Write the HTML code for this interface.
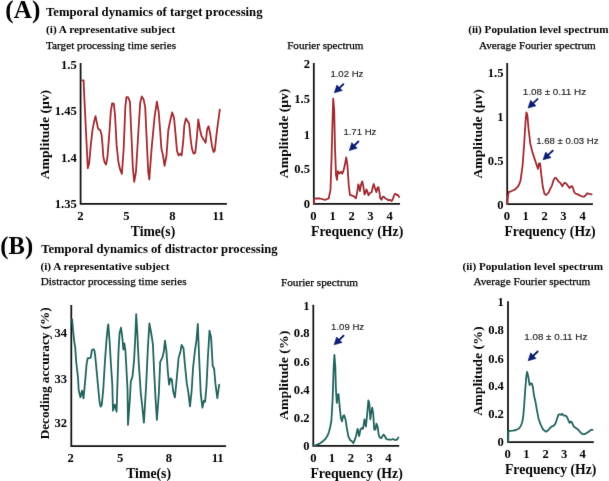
<!DOCTYPE html>
<html><head><meta charset="utf-8"><title>Temporal dynamics</title>
<style>
html,body{margin:0;padding:0;background:#fff;}
body{width:609px;height:481px;overflow:hidden;font-family:"Liberation Serif",serif;}
svg{display:block;}
</style></head>
<body>
<svg width="609" height="481" viewBox="0 0 609 481">
<defs><filter id="bl" x="0" y="0" width="609" height="481" filterUnits="userSpaceOnUse" color-interpolation-filters="sRGB"><feConvolveMatrix order="3" kernelMatrix="0.0052 0.0619 0.0052 0.0619 0.7314 0.0619 0.0052 0.0619 0.0052" edgeMode="duplicate"/></filter></defs>
<g filter="url(#bl)">
<rect width="609" height="481" fill="#fff"/>
<text x="5.3" y="17.5" font-family="Liberation Serif" font-size="25" font-weight="bold" textLength="35.0" lengthAdjust="spacingAndGlyphs" fill="#000">(A)</text>
<text x="46.0" y="15.7" font-family="Liberation Serif" font-size="12.0" font-weight="bold" textLength="216.5" lengthAdjust="spacingAndGlyphs" fill="#000">Temporal dynamics of target processing</text>
<text x="46.0" y="33.3" font-family="Liberation Serif" font-size="11" font-weight="bold" textLength="129.2" lengthAdjust="spacingAndGlyphs" fill="#000">(i) A representative subject</text>
<text x="46.0" y="48.7" font-family="Liberation Serif" font-size="11" textLength="130.0" lengthAdjust="spacingAndGlyphs" fill="#000" stroke="#000" stroke-width="0.25">Target processing time series</text>
<text x="287.2" y="49.3" font-family="Liberation Serif" font-size="11" textLength="76.2" lengthAdjust="spacingAndGlyphs" fill="#000" stroke="#000" stroke-width="0.25">Fourier spectrum</text>
<text x="468.2" y="33.3" font-family="Liberation Serif" font-size="11" font-weight="bold" textLength="140.3" lengthAdjust="spacingAndGlyphs" fill="#000">(ii) Population level spectrum</text>
<text x="479.0" y="48.6" font-family="Liberation Serif" font-size="11" textLength="116.8" lengthAdjust="spacingAndGlyphs" fill="#000" stroke="#000" stroke-width="0.25">Average Fourier spectrum</text>
<text x="0.3" y="253.9" font-family="Liberation Serif" font-size="25" font-weight="bold" textLength="32.8" lengthAdjust="spacingAndGlyphs" fill="#000">(B)</text>
<text x="41.2" y="252.7" font-family="Liberation Serif" font-size="12.0" font-weight="bold" textLength="236.4" lengthAdjust="spacingAndGlyphs" fill="#000">Temporal dynamics of distractor processing</text>
<text x="40.4" y="270.3" font-family="Liberation Serif" font-size="11" font-weight="bold" textLength="129.2" lengthAdjust="spacingAndGlyphs" fill="#000">(i) A representative subject</text>
<text x="40.7" y="285.1" font-family="Liberation Serif" font-size="11" textLength="145.8" lengthAdjust="spacingAndGlyphs" fill="#000" stroke="#000" stroke-width="0.25">Distractor processing time series</text>
<text x="281.0" y="286.1" font-family="Liberation Serif" font-size="11" textLength="77.0" lengthAdjust="spacingAndGlyphs" fill="#000" stroke="#000" stroke-width="0.25">Fourier spectrum</text>
<text x="462.5" y="270.3" font-family="Liberation Serif" font-size="11" font-weight="bold" textLength="140.6" lengthAdjust="spacingAndGlyphs" fill="#000">(ii) Population level spectrum</text>
<text x="473.5" y="284.6" font-family="Liberation Serif" font-size="11" textLength="116.8" lengthAdjust="spacingAndGlyphs" fill="#000" stroke="#000" stroke-width="0.25">Average Fourier spectrum</text>
<path d="M80.6,63.0 L80.6,203.8 L226.9,203.8" fill="none" stroke="#111" stroke-width="1.75" stroke-linejoin="miter" stroke-linecap="butt"/>
<text x="76.8" y="68.6" font-family="Liberation Serif" font-size="12.6" font-weight="bold" text-anchor="end" fill="#000">1.5</text>
<text x="76.8" y="114.9" font-family="Liberation Serif" font-size="12.6" font-weight="bold" text-anchor="end" fill="#000">1.45</text>
<text x="76.8" y="161.6" font-family="Liberation Serif" font-size="12.6" font-weight="bold" text-anchor="end" fill="#000">1.4</text>
<text x="76.8" y="208.3" font-family="Liberation Serif" font-size="12.6" font-weight="bold" text-anchor="end" fill="#000">1.35</text>
<text x="80.5" y="219.6" font-family="Liberation Serif" font-size="12.6" font-weight="bold" text-anchor="middle" fill="#000">2</text>
<text x="126.3" y="219.6" font-family="Liberation Serif" font-size="12.6" font-weight="bold" text-anchor="middle" fill="#000">5</text>
<text x="172.5" y="219.6" font-family="Liberation Serif" font-size="12.6" font-weight="bold" text-anchor="middle" fill="#000">8</text>
<text x="218.4" y="219.6" font-family="Liberation Serif" font-size="12.6" font-weight="bold" text-anchor="middle" fill="#000">11</text>
<text x="130.8" y="235.6" font-family="Liberation Serif" font-size="13.7" font-weight="bold" textLength="44.4" lengthAdjust="spacingAndGlyphs" fill="#000">Time(s)</text>
<text transform="translate(48.55,134.6) rotate(-90)" font-family="Liberation Serif" font-size="12.8" font-weight="bold" text-anchor="middle" textLength="89.3" lengthAdjust="spacingAndGlyphs" fill="#000">Amplitude (μv)</text>
<path d="M82.3,80.3 L83.6,80.3 L84.2,95.0 L87.8,168.2 L89.2,163.2 L90.8,144.9 L92.5,129.9 L94.1,121.6 L95.5,116.1 L96.6,121.6 L98.0,128.3 L99.1,129.6 L100.3,130.3 L101.6,134.9 L102.5,144.9 L103.3,156.6 L104.6,162.4 L106.1,164.5 L107.5,156.6 L109.1,136.6 L110.8,111.6 L112.1,103.3 L113.8,103.7 L115.0,115.0 L116.6,144.9 L118.4,162.0 L120.0,169.2 L121.9,173.8 L123.7,148.6 L125.3,107.4 L126.4,97.2 L128.0,97.2 L129.9,101.7 L131.0,125.7 L132.8,166.9 L134.2,181.8 L136.0,171.5 L137.9,139.5 L140.2,102.9 L141.8,96.5 L143.6,99.4 L145.2,107.4 L146.6,137.2 L148.2,171.5 L149.3,179.5 L151.6,148.6 L154.6,116.6 L156.9,101.7 L158.7,112.0 L160.3,132.6 L161.4,148.6 L163.0,155.5 L164.6,165.8 L166.5,155.5 L168.3,130.3 L169.9,122.3 L172.2,112.5 L174.0,117.7 L175.6,134.9 L177.0,150.9 L178.6,155.5 L180.4,153.6 L181.6,155.5 L183.2,141.7 L184.3,125.7 L185.9,118.4 L187.7,121.2 L189.1,123.4 L190.7,139.5 L191.9,148.6 L193.5,153.6 L195.3,152.7 L196.9,137.2 L198.3,119.3 L199.9,129.2 L201.5,136.0 L203.3,139.0 L205.6,142.9 L207.2,129.2 L208.6,126.2 L210.2,133.7 L212.0,146.3 L213.6,152.0 L214.7,150.9 L217.0,130.3 L219.8,109.7" fill="none" stroke="#a02a2f" stroke-width="1.8" stroke-linejoin="round" stroke-linecap="round"/>
<path d="M313.8,63.1 L313.8,203.9 L400.0,203.9" fill="none" stroke="#111" stroke-width="1.75" stroke-linejoin="miter" stroke-linecap="butt"/>
<text x="310.0" y="68.3" font-family="Liberation Serif" font-size="12.6" font-weight="bold" text-anchor="end" fill="#000">2</text>
<text x="310.0" y="103.4" font-family="Liberation Serif" font-size="12.6" font-weight="bold" text-anchor="end" fill="#000">1.5</text>
<text x="310.0" y="138.6" font-family="Liberation Serif" font-size="12.6" font-weight="bold" text-anchor="end" fill="#000">1</text>
<text x="310.0" y="173.1" font-family="Liberation Serif" font-size="12.6" font-weight="bold" text-anchor="end" fill="#000">0.5</text>
<text x="310.0" y="208.4" font-family="Liberation Serif" font-size="12.6" font-weight="bold" text-anchor="end" fill="#000">0</text>
<text x="313.4" y="219.6" font-family="Liberation Serif" font-size="12.6" font-weight="bold" text-anchor="middle" fill="#000">0</text>
<text x="332.7" y="219.6" font-family="Liberation Serif" font-size="12.6" font-weight="bold" text-anchor="middle" fill="#000">1</text>
<text x="351.6" y="219.6" font-family="Liberation Serif" font-size="12.6" font-weight="bold" text-anchor="middle" fill="#000">2</text>
<text x="370.5" y="219.6" font-family="Liberation Serif" font-size="12.6" font-weight="bold" text-anchor="middle" fill="#000">3</text>
<text x="389.7" y="219.6" font-family="Liberation Serif" font-size="12.6" font-weight="bold" text-anchor="middle" fill="#000">4</text>
<text x="311.0" y="235.9" font-family="Liberation Serif" font-size="13.7" font-weight="bold" textLength="92.3" lengthAdjust="spacingAndGlyphs" fill="#000">Frequency (Hz)</text>
<text transform="translate(288.25,133.4) rotate(-90)" font-family="Liberation Serif" font-size="12.8" font-weight="bold" text-anchor="middle" textLength="89.5" lengthAdjust="spacingAndGlyphs" fill="#000">Amplitude (μv)</text>
<path d="M314.0,203.9 L314.2,198.8 L316.0,198.3 L320.0,198.5 L325.0,199.8 L328.7,198.5 L330.5,189.8 L331.5,159.9 L332.5,122.4 L333.2,98.7 L334.2,110.0 L335.0,147.4 L336.0,174.8 L337.0,179.8 L337.9,171.1 L339.4,173.6 L340.9,171.8 L342.4,173.6 L343.7,169.8 L344.9,164.8 L346.2,157.4 L347.4,164.8 L348.7,184.8 L349.9,194.8 L351.4,195.3 L353.6,196.2 L355.9,198.4 L357.2,192.1 L358.3,184.4 L359.0,185.8 L359.9,191.2 L361.0,184.9 L362.2,181.3 L363.1,184.9 L364.5,194.4 L365.4,193.0 L366.4,189.4 L367.3,191.2 L368.5,195.3 L369.9,193.0 L371.7,192.1 L372.8,186.7 L373.7,184.0 L374.8,187.6 L376.4,192.1 L377.6,187.6 L378.5,187.1 L379.4,192.1 L380.3,198.4 L381.4,199.8 L382.5,197.1 L383.6,196.6 L385.2,198.2 L387.0,199.3 L388.4,200.4 L389.7,199.8 L391.7,201.1 L392.9,198.9 L394.3,194.8 L395.2,193.7 L396.5,194.8 L397.9,195.0 L399.2,197.1" fill="none" stroke="#a02a2f" stroke-width="1.8" stroke-linejoin="round" stroke-linecap="round"/>
<text x="330.4" y="77.2" font-family="Liberation Sans" font-size="9.2" textLength="33.0" lengthAdjust="spacingAndGlyphs" fill="#1e1e1e" stroke="#1e1e1e" stroke-width="0.15">1.02 Hz</text>
<line x1="343.3" y1="84.2" x2="339.22" y2="88.10" stroke="#0b1f72" stroke-width="1.9" stroke-linecap="round"/>
<polygon points="334.3,92.8 336.88,84.94 342.27,90.58" fill="#0b1f72" stroke="#0b1f72" stroke-width="0.6" stroke-linejoin="round"/>
<text x="343.4" y="135.3" font-family="Liberation Sans" font-size="9.2" textLength="33.0" lengthAdjust="spacingAndGlyphs" fill="#1e1e1e" stroke="#1e1e1e" stroke-width="0.15">1.71 Hz</text>
<line x1="358.4" y1="141.5" x2="354.13" y2="145.72" stroke="#0b1f72" stroke-width="1.9" stroke-linecap="round"/>
<polygon points="349.3,150.5 351.75,142.59 357.23,148.14" fill="#0b1f72" stroke="#0b1f72" stroke-width="0.6" stroke-linejoin="round"/>
<path d="M507.2,63.1 L507.2,204.2 L592.9,204.2" fill="none" stroke="#111" stroke-width="1.75" stroke-linejoin="miter" stroke-linecap="butt"/>
<text x="503.5" y="77.2" font-family="Liberation Serif" font-size="12.6" font-weight="bold" text-anchor="end" fill="#000">1.5</text>
<text x="503.5" y="120.6" font-family="Liberation Serif" font-size="12.6" font-weight="bold" text-anchor="end" fill="#000">1</text>
<text x="503.5" y="165.0" font-family="Liberation Serif" font-size="12.6" font-weight="bold" text-anchor="end" fill="#000">0.5</text>
<text x="503.5" y="208.8" font-family="Liberation Serif" font-size="12.6" font-weight="bold" text-anchor="end" fill="#000">0</text>
<text x="507.0" y="219.6" font-family="Liberation Serif" font-size="12.6" font-weight="bold" text-anchor="middle" fill="#000">0</text>
<text x="525.7" y="219.6" font-family="Liberation Serif" font-size="12.6" font-weight="bold" text-anchor="middle" fill="#000">1</text>
<text x="544.7" y="219.6" font-family="Liberation Serif" font-size="12.6" font-weight="bold" text-anchor="middle" fill="#000">2</text>
<text x="563.4" y="219.6" font-family="Liberation Serif" font-size="12.6" font-weight="bold" text-anchor="middle" fill="#000">3</text>
<text x="582.6" y="219.6" font-family="Liberation Serif" font-size="12.6" font-weight="bold" text-anchor="middle" fill="#000">4</text>
<text x="504.5" y="235.7" font-family="Liberation Serif" font-size="13.7" font-weight="bold" textLength="91.1" lengthAdjust="spacingAndGlyphs" fill="#000">Frequency (Hz)</text>
<text transform="translate(481.55,133.9) rotate(-90)" font-family="Liberation Serif" font-size="12.8" font-weight="bold" text-anchor="middle" textLength="89.3" lengthAdjust="spacingAndGlyphs" fill="#000">Amplitude (μv)</text>
<path d="M507.3,204.2 L508.0,196.0 L508.8,191.8 L511.2,191.3 L515.0,189.5 L518.3,186.2 L520.5,180.8 L522.6,165.5 L524.2,143.7 L525.5,121.8 L526.4,112.4 L527.4,115.3 L528.5,128.4 L530.3,143.7 L532.5,152.4 L534.6,158.9 L536.8,165.5 L537.9,168.8 L539.0,163.3 L540.1,163.3 L541.2,174.2 L542.9,187.3 L544.5,193.9 L546.2,195.0 L548.7,192.3 L550.6,188.1 L552.0,185.3 L553.4,180.6 L554.8,177.8 L556.2,178.2 L557.6,180.1 L559.0,182.0 L560.4,182.9 L562.3,186.2 L563.7,183.9 L564.8,182.6 L566.5,183.9 L567.9,185.7 L569.5,188.1 L570.7,186.7 L572.1,186.2 L573.1,188.5 L574.0,191.8 L575.4,193.5 L577.3,194.1 L579.1,195.1 L581.0,196.0 L582.9,196.7 L584.3,196.5 L585.7,195.1 L587.6,193.2 L589.0,193.9 L590.4,194.1 L591.6,194.4" fill="none" stroke="#a02a2f" stroke-width="1.8" stroke-linejoin="round" stroke-linecap="round"/>
<text x="522.7" y="94.8" font-family="Liberation Sans" font-size="9.2" textLength="63.4" lengthAdjust="spacingAndGlyphs" fill="#1e1e1e" stroke="#1e1e1e" stroke-width="0.15">1.08 ± 0.11 Hz</text>
<line x1="537.5" y1="99.1" x2="532.96" y2="103.35" stroke="#0b1f72" stroke-width="1.9" stroke-linecap="round"/>
<polygon points="528.0,108.0 530.66,100.16 535.99,105.86" fill="#0b1f72" stroke="#0b1f72" stroke-width="0.6" stroke-linejoin="round"/>
<text x="536.2" y="144.0" font-family="Liberation Sans" font-size="9.2" textLength="62.3" lengthAdjust="spacingAndGlyphs" fill="#1e1e1e" stroke="#1e1e1e" stroke-width="0.15">1.68 ± 0.03 Hz</text>
<line x1="552.7" y1="150.7" x2="547.96" y2="155.15" stroke="#0b1f72" stroke-width="1.9" stroke-linecap="round"/>
<polygon points="543.0,159.8 545.66,151.96 550.99,157.65" fill="#0b1f72" stroke="#0b1f72" stroke-width="0.6" stroke-linejoin="round"/>
<path d="M71.3,305.0 L71.3,446.0 L226.1,446.0" fill="none" stroke="#111" stroke-width="1.75" stroke-linejoin="miter" stroke-linecap="butt"/>
<text x="67.1" y="337.4" font-family="Liberation Serif" font-size="12.6" font-weight="bold" text-anchor="end" fill="#000">34</text>
<text x="67.1" y="382.6" font-family="Liberation Serif" font-size="12.6" font-weight="bold" text-anchor="end" fill="#000">33</text>
<text x="67.1" y="427.4" font-family="Liberation Serif" font-size="12.6" font-weight="bold" text-anchor="end" fill="#000">32</text>
<text x="70.7" y="461.6" font-family="Liberation Serif" font-size="12.6" font-weight="bold" text-anchor="middle" fill="#000">2</text>
<text x="120.1" y="461.6" font-family="Liberation Serif" font-size="12.6" font-weight="bold" text-anchor="middle" fill="#000">5</text>
<text x="168.8" y="461.6" font-family="Liberation Serif" font-size="12.6" font-weight="bold" text-anchor="middle" fill="#000">8</text>
<text x="217.6" y="461.6" font-family="Liberation Serif" font-size="12.6" font-weight="bold" text-anchor="middle" fill="#000">11</text>
<text x="126.2" y="477.8" font-family="Liberation Serif" font-size="13.7" font-weight="bold" textLength="44.8" lengthAdjust="spacingAndGlyphs" fill="#000">Time(s)</text>
<text transform="translate(48.75,373.3) rotate(-90)" font-family="Liberation Serif" font-size="12.8" font-weight="bold" text-anchor="middle" textLength="132.0" lengthAdjust="spacingAndGlyphs" fill="#000">Decoding accuracy (%)</text>
<path d="M72.1,319.4 L73.1,330.8 L74.2,341.2 L75.2,347.4 L76.2,362.0 L77.9,376.5 L78.7,390.0 L80.4,397.3 L82.1,390.7 L83.5,398.4 L85.0,382.8 L86.6,364.1 L87.7,358.2 L89.8,358.2 L90.8,357.4 L91.8,350.5 L93.3,349.1 L94.5,350.5 L95.4,357.8 L96.6,370.3 L98.1,386.9 L99.5,401.5 L100.6,406.7 L101.8,404.6 L103.3,389.0 L104.9,362.0 L106.4,341.2 L107.8,326.6 L108.3,324.3 L109.6,341.2 L110.8,362.0 L112.3,384.8 L113.0,410.7 L114.7,404.6 L116.6,411.6 L117.1,395.0 L118.5,351.6 L119.6,332.9 L121.0,327.7 L122.3,337.0 L123.3,349.5 L124.3,343.3 L125.4,350.5 L126.4,368.2 L127.5,389.0 L128.0,424.9 L130.0,397.3 L130.8,381.6 L132.5,376.6 L134.1,359.9 L135.1,341.2 L136.2,314.2 L137.2,330.8 L138.7,362.0 L140.8,393.3 L142.1,405.0 L143.9,422.6 L146.1,386.1 L148.0,345.5 L149.4,323.4 L151.0,332.0 L152.9,344.2 L154.2,372.6 L155.6,399.6 L156.9,419.9 L158.8,394.2 L160.2,361.8 L162.3,357.7 L163.7,352.3 L165.0,340.7 L166.4,350.9 L167.7,369.9 L169.1,384.7 L170.4,378.5 L171.8,379.3 L173.2,391.5 L174.9,397.4 L176.8,378.0 L178.6,357.7 L180.3,352.3 L181.6,345.0 L183.5,348.2 L184.9,364.5 L186.8,383.4 L188.4,392.8 L190.0,406.4 L191.6,391.5 L193.0,368.5 L194.9,351.0 L196.5,340.1 L197.8,323.9 L199.2,359.0 L200.8,394.2 L202.4,407.7 L203.8,401.0 L205.1,401.8 L206.5,386.1 L207.8,359.0 L209.5,330.7 L211.1,337.4 L212.7,365.8 L214.1,368.5 L215.4,383.4 L217.3,398.2 L219.2,384.7" fill="none" stroke="#22635e" stroke-width="1.8" stroke-linejoin="round" stroke-linecap="round"/>
<path d="M313.3,304.7 L313.3,445.8 L399.2,445.8" fill="none" stroke="#111" stroke-width="1.75" stroke-linejoin="miter" stroke-linecap="butt"/>
<text x="309.6" y="309.5" font-family="Liberation Serif" font-size="12.6" font-weight="bold" text-anchor="end" fill="#000">1</text>
<text x="309.6" y="337.4" font-family="Liberation Serif" font-size="12.6" font-weight="bold" text-anchor="end" fill="#000">0.8</text>
<text x="309.6" y="365.8" font-family="Liberation Serif" font-size="12.6" font-weight="bold" text-anchor="end" fill="#000">0.6</text>
<text x="309.6" y="394.2" font-family="Liberation Serif" font-size="12.6" font-weight="bold" text-anchor="end" fill="#000">0.4</text>
<text x="309.6" y="422.0" font-family="Liberation Serif" font-size="12.6" font-weight="bold" text-anchor="end" fill="#000">0.2</text>
<text x="309.6" y="449.8" font-family="Liberation Serif" font-size="12.6" font-weight="bold" text-anchor="end" fill="#000">0</text>
<text x="313.5" y="461.6" font-family="Liberation Serif" font-size="12.6" font-weight="bold" text-anchor="middle" fill="#000">0</text>
<text x="332.0" y="461.6" font-family="Liberation Serif" font-size="12.6" font-weight="bold" text-anchor="middle" fill="#000">1</text>
<text x="350.9" y="461.6" font-family="Liberation Serif" font-size="12.6" font-weight="bold" text-anchor="middle" fill="#000">2</text>
<text x="369.7" y="461.6" font-family="Liberation Serif" font-size="12.6" font-weight="bold" text-anchor="middle" fill="#000">3</text>
<text x="388.5" y="461.6" font-family="Liberation Serif" font-size="12.6" font-weight="bold" text-anchor="middle" fill="#000">4</text>
<text x="310.4" y="477.6" font-family="Liberation Serif" font-size="13.7" font-weight="bold" textLength="92.4" lengthAdjust="spacingAndGlyphs" fill="#000">Frequency (Hz)</text>
<text transform="translate(287.85,375.3) rotate(-90)" font-family="Liberation Serif" font-size="12.8" font-weight="bold" text-anchor="middle" textLength="89.2" lengthAdjust="spacingAndGlyphs" fill="#000">Amplitude (%)</text>
<path d="M313.3,445.7 L316.0,445.0 L319.0,443.9 L322.0,442.0 L325.0,439.4 L327.2,436.3 L329.0,432.0 L330.3,426.5 L331.4,420.5 L332.6,399.6 L333.7,366.8 L334.4,354.8 L335.3,366.8 L335.9,388.7 L336.8,402.8 L337.7,395.2 L338.5,394.1 L339.4,403.9 L340.7,417.0 L342.0,421.4 L343.1,416.0 L344.2,415.3 L345.7,420.3 L346.8,428.0 L348.4,436.7 L350.1,440.0 L351.6,441.0 L353.4,443.2 L355.1,438.9 L356.2,435.3 L357.6,428.8 L359.1,436.0 L360.5,429.5 L362.0,428.0 L363.0,428.8 L364.5,419.3 L365.9,426.6 L367.4,412.0 L368.4,400.4 L369.3,403.3 L370.3,419.3 L371.3,412.0 L372.2,407.7 L373.2,413.5 L374.2,429.5 L375.4,429.5 L376.5,423.7 L377.6,426.6 L378.6,433.9 L379.7,437.5 L381.2,438.2 L383.4,434.6 L384.8,436.0 L386.3,439.0 L388.5,439.7 L391.4,439.7 L392.8,439.0 L395.0,440.0 L396.9,439.7 L398.4,437.5" fill="none" stroke="#22635e" stroke-width="1.8" stroke-linejoin="round" stroke-linecap="round"/>
<text x="331.1" y="330.3" font-family="Liberation Sans" font-size="9.2" textLength="33.0" lengthAdjust="spacingAndGlyphs" fill="#1e1e1e" stroke="#1e1e1e" stroke-width="0.15">1.09 Hz</text>
<line x1="343.5" y1="335.7" x2="338.99" y2="340.07" stroke="#0b1f72" stroke-width="1.9" stroke-linecap="round"/>
<polygon points="334.1,344.8 336.63,336.92 342.06,342.52" fill="#0b1f72" stroke="#0b1f72" stroke-width="0.6" stroke-linejoin="round"/>
<path d="M508.0,301.3 L508.0,442.0 L593.8,442.0" fill="none" stroke="#111" stroke-width="1.75" stroke-linejoin="miter" stroke-linecap="butt"/>
<text x="503.9" y="306.0" font-family="Liberation Serif" font-size="12.6" font-weight="bold" text-anchor="end" fill="#000">1</text>
<text x="503.9" y="334.4" font-family="Liberation Serif" font-size="12.6" font-weight="bold" text-anchor="end" fill="#000">0.8</text>
<text x="503.9" y="362.6" font-family="Liberation Serif" font-size="12.6" font-weight="bold" text-anchor="end" fill="#000">0.6</text>
<text x="503.9" y="390.0" font-family="Liberation Serif" font-size="12.6" font-weight="bold" text-anchor="end" fill="#000">0.4</text>
<text x="503.9" y="418.3" font-family="Liberation Serif" font-size="12.6" font-weight="bold" text-anchor="end" fill="#000">0.2</text>
<text x="503.9" y="446.4" font-family="Liberation Serif" font-size="12.6" font-weight="bold" text-anchor="end" fill="#000">0</text>
<text x="507.6" y="457.6" font-family="Liberation Serif" font-size="12.6" font-weight="bold" text-anchor="middle" fill="#000">0</text>
<text x="526.3" y="457.6" font-family="Liberation Serif" font-size="12.6" font-weight="bold" text-anchor="middle" fill="#000">1</text>
<text x="545.6" y="457.6" font-family="Liberation Serif" font-size="12.6" font-weight="bold" text-anchor="middle" fill="#000">2</text>
<text x="564.2" y="457.6" font-family="Liberation Serif" font-size="12.6" font-weight="bold" text-anchor="middle" fill="#000">3</text>
<text x="582.7" y="457.6" font-family="Liberation Serif" font-size="12.6" font-weight="bold" text-anchor="middle" fill="#000">4</text>
<text x="505.0" y="474.4" font-family="Liberation Serif" font-size="13.7" font-weight="bold" textLength="91.4" lengthAdjust="spacingAndGlyphs" fill="#000">Frequency (Hz)</text>
<text transform="translate(482.15,371.1) rotate(-90)" font-family="Liberation Serif" font-size="12.8" font-weight="bold" text-anchor="middle" textLength="89.2" lengthAdjust="spacingAndGlyphs" fill="#000">Amplitude (%)</text>
<path d="M508.2,441.9 L508.4,431.4 L510.0,430.9 L513.0,430.6 L516.0,430.0 L518.5,428.8 L520.5,426.5 L522.0,423.0 L523.2,417.0 L524.2,405.0 L525.2,390.0 L526.3,376.5 L527.1,372.0 L528.3,376.7 L529.6,385.0 L530.7,383.3 L531.9,383.6 L532.9,387.3 L534.1,396.0 L535.5,401.8 L537.0,410.6 L538.7,419.3 L540.9,425.1 L543.1,429.5 L546.0,431.7 L548.2,430.2 L550.1,428.0 L551.8,426.3 L553.6,425.9 L555.5,423.4 L556.9,419.3 L558.4,414.9 L559.8,414.2 L561.3,414.9 L562.3,413.8 L563.8,415.7 L565.7,415.7 L567.1,417.1 L568.6,420.8 L569.6,422.9 L571.0,421.5 L572.2,422.9 L573.7,426.6 L575.9,428.0 L578.0,429.5 L580.2,432.1 L582.4,434.1 L584.6,434.1 L587.1,432.7 L589.7,430.9 L591.1,429.8 L592.6,429.8" fill="none" stroke="#22635e" stroke-width="1.8" stroke-linejoin="round" stroke-linecap="round"/>
<text x="524.3" y="340.3" font-family="Liberation Sans" font-size="9.2" textLength="63.0" lengthAdjust="spacingAndGlyphs" fill="#1e1e1e" stroke="#1e1e1e" stroke-width="0.15">1.08 ± 0.11 Hz</text>
<line x1="537.7" y1="351.5" x2="533.01" y2="356.00" stroke="#0b1f72" stroke-width="1.9" stroke-linecap="round"/>
<polygon points="528.1,360.7 530.67,352.83 536.07,358.46" fill="#0b1f72" stroke="#0b1f72" stroke-width="0.6" stroke-linejoin="round"/>
</g>
</svg>
</body></html>
